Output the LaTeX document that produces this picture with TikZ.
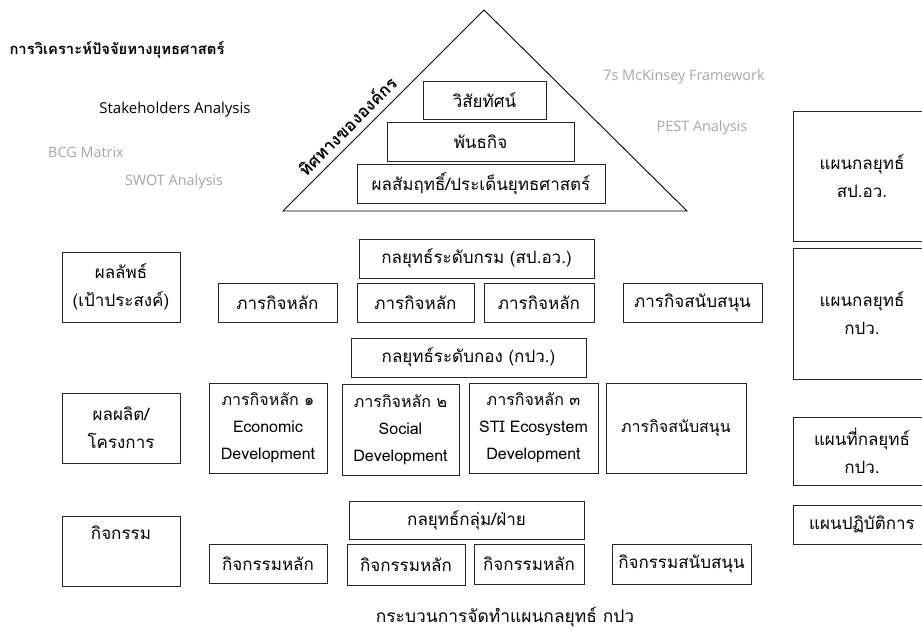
\documentclass[tikz,border=0pt]{standalone}
\usepackage{fontspec}
\setmainfont[Script=Thai]{Loma}
\newfontfamily\latinfont{Open Sans}
\usepackage{tikz}
\tikzstyle{box}=[draw=black!85,line width=0.9pt,inner sep=0pt,
                 align=center,font=\fontsize{17}{28}\selectfont]
\tikzstyle{smallbox}=[box,font=\fontsize{16}{27}\selectfont]
\tikzstyle{tool}=[text=black!35,font=\latinfont\fontsize{14.4}{16}\selectfont]

\begin{document}
\begin{tikzpicture}[x=1pt,y=-1pt]
    \useasboundingbox (0,0) rectangle (922,633);
    \newcommand{\bh}{39pt}
    % analysis tools
    \node (title) at (117,50) [font=\bfseries\fontsize{14.8}{16}\selectfont]{การวิเคราะห์ปัจจัยทางยุทธศาสตร์};
    \node (stake) at (175,110) [font=\latinfont\fontsize{15}{16}\selectfont]{Stakeholders Analysis};
    \node (bcg) at (86,152) [tool]{BCG Matrix};
    \node (swot) at (174,182) [tool]{SWOT Analysis};
    \node (mck) at (684,77) [tool]{7s McKinsey Framework};
    \node (pest) at (702,128) [tool]{PEST Analysis};
    % organisation direction
    \coordinate (apex) at (484,10);
    \coordinate (bl) at (283,211);
    \coordinate (br) at (687,211);
    \draw[line width=0.9pt] (bl) -- (apex) -- (br) -- cycle;
    \node (dir) at (347,126) [rotate=45,inner sep=1pt,font=\bfseries\fontsize{17}{18}\selectfont]{ทิศทางขององค์กร};
    \node (vision) at (484.5,100) [box,minimum width=123pt,minimum height=38pt]{วิสัยทัศน์};
    \node (mission) at (480.5,141.5) [box,minimum width=187pt,minimum height=\bh]{พันธกิจ};
    \node (issue) at (481,183.5) [box,minimum width=248pt,minimum height=\bh]{ผลสัมฤทธิ์/ประเด็นยุทธศาสตร์};
    % left column
    \node (outcome) at (121,287) [box,minimum width=118pt,minimum height=70pt]{ผลลัพธ์\\(เป้าประสงค์)};
    \node (output) at (121,428) [box,minimum width=118pt,minimum height=70pt]{ผลผลิต/\\โครงการ};
    \node (activity) at (121,551) [box,minimum width=118pt,minimum height=70pt]{กิจกรรม\\\strut};
    % ministry level
    \node (s1) at (476.5,258.5) [box,minimum width=235pt,minimum height=\bh]{กลยุทธ์ระดับกรม (สป.อว.)};
    \node (m1a) at (277.5,302.5) [box,minimum width=119pt,minimum height=\bh]{ภารกิจหลัก};
    \node (m1b) at (415.5,302.5) [box,minimum width=117pt,minimum height=\bh]{ภารกิจหลัก};
    \node (m1c) at (539,302.5) [box,minimum width=110pt,minimum height=\bh]{ภารกิจหลัก};
    \node (m1d) at (692.5,302.5) [box,minimum width=139pt,minimum height=\bh]{ภารกิจสนับสนุน};
    % division level
    \node (s2) at (468.5,357.5) [box,minimum width=235pt,minimum height=\bh]{กลยุทธ์ระดับกอง (กปว.)};
    \node (m2a) at (268,428) [smallbox,minimum width=118pt,minimum height=90pt]{ภารกิจหลัก ๑\\Economic\\Development};
    \node (m2b) at (400.5,429.5) [smallbox,minimum width=117pt,minimum height=91pt]{ภารกิจหลัก ๒\\Social\\Development};
    \node (m2c) at (533.5,428) [smallbox,minimum width=129pt,minimum height=90pt]{ภารกิจหลัก ๓\\STI Ecosystem\\Development};
    \node (m2d) at (676,428) [smallbox,minimum width=140pt,minimum height=90pt]{ภารกิจสนับสนุน};
    % group level
    \node (s3) at (466.5,520) [box,minimum width=235pt,minimum height=38pt]{กลยุทธ์กลุ่ม/ฝ่าย};
    \node (a1) at (268,563.5) [box,minimum width=118pt,minimum height=\bh]{กิจกรรมหลัก};
    \node (a2) at (406,564.5) [box,minimum width=118pt,minimum height=41pt]{กิจกรรมหลัก};
    \node (a3) at (529,564) [box,minimum width=110pt,minimum height=40pt]{กิจกรรมหลัก};
    \node (a4) at (681.5,564) [box,minimum width=139pt,minimum height=40pt]{กิจกรรมสนับสนุน};
    % plans
    \node (p1) at (862,176) [box,minimum width=138pt,minimum height=130pt]{แผนกลยุทธ์\\สป.อว.};
    \node (p2) at (862,313.5) [box,minimum width=138pt,minimum height=131pt]{แผนกลยุทธ์\\กปว.};
    \node (p3) at (862,451) [box,minimum width=138pt,minimum height=68pt]{แผนที่กลยุทธ์\\กปว.};
    \node (p4) at (862,524.5) [box,minimum width=138pt,minimum height=\bh]{แผนปฏิบัติการ};
    \node (caption) at (505,617) [font=\fontsize{17.4}{18}\selectfont]{กระบวนการจัดทำแผนกลยุทธ์ กปว};
  \end{tikzpicture}
\end{document}
